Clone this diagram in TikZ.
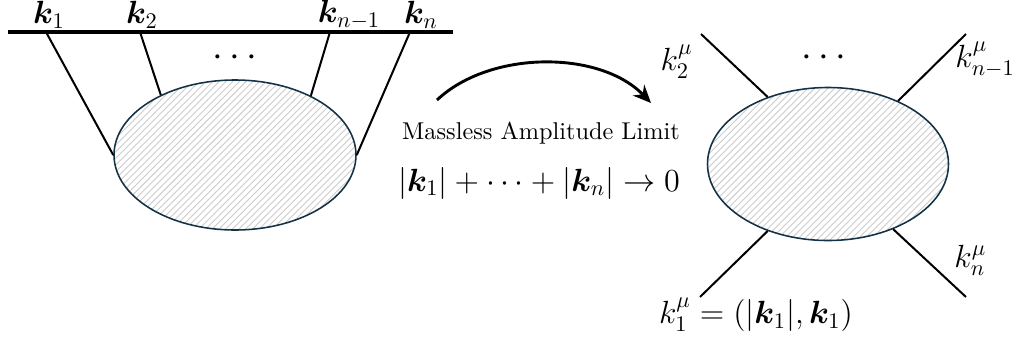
\documentclass[tikz,border=0pt]{standalone}
\usepackage{amsmath}
\usepackage{bm}
\usetikzlibrary{shapes.geometric,patterns,arrows.meta}
\definecolor{blobedge}{RGB}{20,50,70}
\tikzset{
  blob/.style={ellipse,draw=blobedge,line width=0.7pt,pattern=north east lines,pattern color=black!20,inner sep=0pt},
  leg/.style={line width=0.9pt,black},
  bar/.style={line width=1.9pt,black},
  lbl/.style={inner sep=0pt},
  ltop/.style={inner sep=0pt,font=\fontsize{14.5}{17}\selectfont},
  rlab/.style={inner sep=0pt,font=\fontsize{14.3}{17}\selectfont},
  dotsl/.style={inner sep=0pt,font=\fontsize{16.5}{19}\selectfont}
}
\begin{document}
\begin{tikzpicture}[x=0.4485pt,y=-0.4485pt]
\useasboundingbox (0,0) rectangle (1019,341);
% left diagram
\coordinate (b0) at (8,32);
\coordinate (b1) at (453,32);
\draw[bar] (b0) -- (b1);
\node[blob,minimum width=242*0.4485pt,minimum height=150*0.4485pt] (L) at (235,155) {};
\coordinate (t1) at (46,32);
\coordinate (t2) at (140,32);
\coordinate (t3) at (330,32);
\coordinate (t4) at (410,32);
\draw[leg] (t1) -- (L.180);
\draw[leg] (t2) -- (L.141);
\draw[leg] (t3) -- (L.38);
\draw[leg] (t4) -- (L.0);
\node[ltop] (lk1) at (49,15) {$\bm{k}_1$};
\node[ltop] (lk2) at (142,15) {$\bm{k}_2$};
\node[ltop] (lk3) at (349,15) {$\bm{k}_{n-1}$};
\node[ltop] (lk4) at (421,15) {$\bm{k}_n$};
\node[dotsl] (ld) at (238,58) {$\cdots$};
% arrow
\coordinate (a0) at (437,100);
\coordinate (a1) at (651,103);
\draw[line width=1.3pt,-{Stealth[length=8pt,width=7pt]}] (a0) .. controls (490,50) and (600,50) .. (a1);
\node[lbl,font=\fontsize{10.9}{13}\selectfont] (txt) at (541,133) {Massless Amplitude Limit};
\node[lbl,font=\fontsize{14.6}{18}\selectfont] (eq) at (539,183) {$|\bm{k}_1|+\cdots+|\bm{k}_n|\to 0$};
% right diagram
\node[blob,minimum width=241*0.4485pt,minimum height=153*0.4485pt] (R) at (828,164) {};
\coordinate (r1) at (701,34);
\coordinate (r2) at (966,34);
\coordinate (r3) at (700,297);
\coordinate (r4) at (966,297);
\draw[leg] (r1) -- (R.132);
\draw[leg] (r2) -- (R.42);
\draw[leg] (r3) -- (R.228);
\draw[leg] (r4) -- (R.315);
\node[rlab,anchor=east] (rk2) at (693,62) {$k_2^\mu$};
\node[rlab,anchor=west] (rk3) at (955,60) {$k_{n-1}^\mu$};
\node[rlab,anchor=west] (rk4) at (954,260) {$k_n^\mu$};
\node[rlab] (rk1) at (756,315) {$k_1^\mu=(|\bm{k}_1|,\bm{k}_1)$};
\node[dotsl] (rd) at (827,58) {$\cdots$};
\end{tikzpicture}
\end{document}
